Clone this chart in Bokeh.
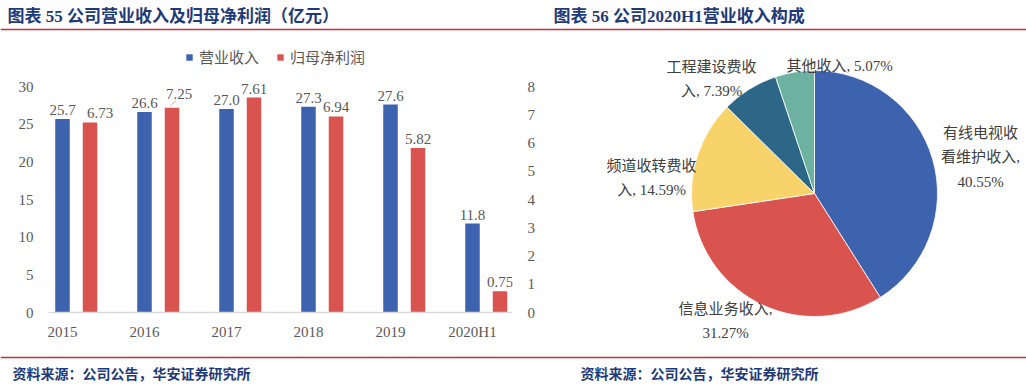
import numpy as np
from bokeh.plotting import figure
from bokeh.models import (Range1d, LinearAxis, FixedTicker, ColumnDataSource,
                          Legend, LegendItem)
from bokeh.layouts import column, row
from bokeh.core.properties import value
from bokeh.embed import file_html
from bokeh.resources import INLINE

# ---------------- data ----------------
years = ["2015", "2016", "2017", "2018", "2019", "2020H1"]
revenue = [25.7, 26.6, 27.0, 27.3, 27.6, 11.8]          # 营业收入 (亿元), left axis
net_profit = [6.73, 7.25, 7.61, 6.94, 5.82, 0.75]       # 归母净利润 (亿元), right axis
left_ticks = [0, 5, 10, 15, 20, 25, 30]
right_ticks = [0, 1, 2, 3, 4, 5, 6, 7, 8]
series_names = ["营业收入", "归母净利润"]

pie_names = ["有线电视收看维护收入", "信息业务收入", "频道收转费收入", "工程建设费收入", "其他收入"]
pie_pct = [40.55, 31.27, 14.59, 7.39, 5.07]

title_left = "图表 55 公司营业收入及归母净利润（亿元）"
title_right = "图表 56 公司2020H1营业收入构成"
source_note = "资料来源：公司公告，华安证券研究所"

# ---------------- styles / layout ----------------
BLUE = "#3D62AE"
RED = "#D9534F"
PIE_COLORS = [BLUE, RED, "#F8D36A", "#2C6788", "#6DB2A0"]
NAVY = "#1F3A78"
RULE = "#C0323C"
GRAY = "#595959"
SERIF = "'Liberation Serif', 'Noto Sans CJK SC'"
CJK = "'Noto Sans CJK SC'"

TOTAL_W = 1026
BAR_W, PIE_W = 538, 488
HEAD_H, MID_H, FOOT_H = 40, 310, 36

# manual nudges of the profit data labels (px), as in the original
np_lbl_dx = [10, 7, 0, 0, 0, 0]
np_lbl_dy = [0, -5, 0, 0, 0, 0]


def strip_fig(w, h):
    f = figure(width=w, height=h, x_range=Range1d(0, w), y_range=Range1d(0, h),
               toolbar_location=None, output_backend="svg", min_border=0,
               x_axis_location=None, y_axis_location=None)
    f.grid.visible = False
    f.outline_line_color = None
    return f


def style_axis(ax, standoff):
    ax.axis_line_color = None
    ax.major_tick_line_color = None
    ax.minor_tick_line_color = None
    ax.major_tick_out = 0
    ax.major_tick_in = 0
    ax.minor_tick_out = 0
    ax.major_label_standoff = standoff
    ax.major_label_text_font = "Liberation Serif"
    ax.major_label_text_font_size = "15px"
    ax.major_label_text_color = GRAY


# ---------------- header ----------------
head = strip_fig(TOTAL_W, HEAD_H)
head.text(x=[7, 553], y=[HEAD_H - 16, HEAD_H - 16], text=[title_left, title_right],
          text_font=value(SERIF), text_font_style="bold", text_font_size="17px",
          text_color=NAVY, text_baseline="middle", text_align="left")
head.segment(x0=[0], y0=[HEAD_H - 29], x1=[TOTAL_W], y1=[HEAD_H - 29],
             line_color=RULE, line_width=1.5)

# ---------------- bar chart ----------------
px_per_unit_left = (312 - 86) / 30.0
frame_h = MID_H - 38
y_end = frame_h / px_per_unit_left
cat_px = 82.0
frame_w = BAR_W - 48 - 26
x_start = -14.0 / cat_px
x_end = x_start + frame_w / cat_px

bar = figure(width=BAR_W, height=MID_H, x_range=Range1d(x_start, x_end),
             y_range=Range1d(0, y_end), toolbar_location=None, output_backend="svg",
             min_border_left=48, min_border_right=26, min_border_top=0,
             min_border_bottom=38)
bar.extra_y_ranges = {"right": Range1d(0, y_end * 8 / 30)}
bar.grid.visible = False
bar.outline_line_color = None

idx = np.arange(len(years))
red_shift = 27.5 / cat_px
bw = 14.5 / cat_px
src = ColumnDataSource(dict(
    x=idx, xr=idx + red_shift, rev=revenue, np=net_profit,
    rev_lbl=[f"{v:.1f}" for v in revenue], np_lbl=[f"{v:.2f}" for v in net_profit],
    dx=np_lbl_dx, dy=[d - 9 for d in np_lbl_dy]))

rb = bar.vbar(x="x", top="rev", width=bw, source=src, fill_color=BLUE, line_color=None)
rr = bar.vbar(x="xr", top="np", width=bw, source=src, fill_color=RED, line_color=None,
              y_range_name="right")
bar.text(x="x", y="rev", text="rev_lbl", source=src, text_align="center",
         text_baseline="alphabetic", y_offset=-9, text_font=value("Liberation Serif"),
         text_font_size="15px", text_color=GRAY)
bar.text(x="xr", y="np", text="np_lbl", source=src, text_align="center",
         text_baseline="alphabetic", x_offset="dx", y_offset="dy",
         text_font=value("Liberation Serif"),
         text_font_size="15px", text_color=GRAY, y_range_name="right")
# short leader line of the moved 2016 profit label
px_per_unit_right = px_per_unit_left * 30 / 8
bar.segment(x0=[idx[1] + red_shift - 1.5 / cat_px], y0=[net_profit[1] + 2 / px_per_unit_right],
            x1=[idx[1] + red_shift + 4 / cat_px], y1=[net_profit[1] + 7 / px_per_unit_right],
            line_color="#A6A6A6", line_width=0.8, y_range_name="right")

# axes
xa = bar.xaxis[0]
style_axis(xa, 11)
xa.ticker = FixedTicker(ticks=list(idx))
xa.major_label_overrides = {int(i): years[i] for i in idx}
xa.axis_line_color = "#D9D9D9"
xa.axis_line_width = 1.5

ya = bar.yaxis[0]
style_axis(ya, 15)
ya.ticker = FixedTicker(ticks=left_ticks)

yr = LinearAxis(y_range_name="right", ticker=FixedTicker(ticks=right_ticks))
style_axis(yr, 15)
bar.add_layout(yr, "right")

legend = Legend(items=[LegendItem(label=series_names[0], renderers=[rb]),
                       LegendItem(label=series_names[1], renderers=[rr])],
                orientation="horizontal", location=(137, 245),
                glyph_width=8, glyph_height=8, label_standoff=6, spacing=17,
                padding=0, margin=0, border_line_color=None,
                background_fill_alpha=0, label_text_font=CJK,
                label_text_font_size="15px", label_text_color=GRAY)
bar.add_layout(legend)

# ---------------- pie chart ----------------
R_PX = 123.0
CX_IMG, CY_IMG = 814.0, 193.0
ORG_X, ORG_Y = float(BAR_W), float(HEAD_H)
cx, cy = CX_IMG - ORG_X, CY_IMG - ORG_Y
pie = figure(width=PIE_W, height=MID_H,
             x_range=Range1d(-cx / R_PX, (PIE_W - cx) / R_PX),
             y_range=Range1d(-(MID_H - cy) / R_PX, cy / R_PX),
             toolbar_location=None, output_backend="svg", min_border=0,
             x_axis_location=None, y_axis_location=None)
pie.grid.visible = False
pie.outline_line_color = None

vals = np.array(pie_pct, dtype=float)
cum = np.concatenate([[0.0], np.cumsum(vals)]) / vals.sum()
starts = np.pi / 2 - 2 * np.pi * cum[:-1]
ends = np.pi / 2 - 2 * np.pi * cum[1:]
pie.wedge(x=0, y=0, radius=1, start_angle=starts, end_angle=ends, direction="clock",
          fill_color=PIE_COLORS, line_color="white", line_width=0.8)

# label layout (image-pixel anchors of first line centre, line breaks)
label_anchor = [(980, 132), (725, 308), (651, 165), (711, 66), (839, 65)]
label_breaks = [[5, 11], [7], [6], [6], []]
LINE_PX = 24.5
lx, ly, lt = [], [], []
for name, pct, (ax, ay), brk in zip(pie_names, pie_pct, label_anchor, label_breaks):
    full = f"{name}, {pct:.2f}%"
    cuts = [0] + brk + [len(full)]
    lines = [full[a:b].strip() for a, b in zip(cuts[:-1], cuts[1:])]
    for k, ln in enumerate(lines):
        lx.append((ax - CX_IMG) / R_PX)
        ly.append((CY_IMG - (ay + k * LINE_PX)) / R_PX)
        lt.append(ln)
pie.text(x=lx, y=ly, text=lt, text_align="center", text_baseline="middle",
         text_font=value(SERIF), text_font_size="15px", text_color="#404040")

# ---------------- footer ----------------
foot = strip_fig(TOTAL_W, FOOT_H)
foot.segment(x0=[0], y0=[FOOT_H - 7], x1=[TOTAL_W], y1=[FOOT_H - 7],
             line_color=RULE, line_width=1.5)
foot.text(x=[12, 580], y=[FOOT_H - 22, FOOT_H - 22], text=[source_note, source_note],
          text_font=value(CJK), text_font_style="bold", text_font_size="14px",
          text_color=NAVY, text_baseline="middle", text_align="left")

layout = column(head, row(column(bar), column(pie)), foot)
open("out.html", "w").write(file_html(layout, INLINE))
